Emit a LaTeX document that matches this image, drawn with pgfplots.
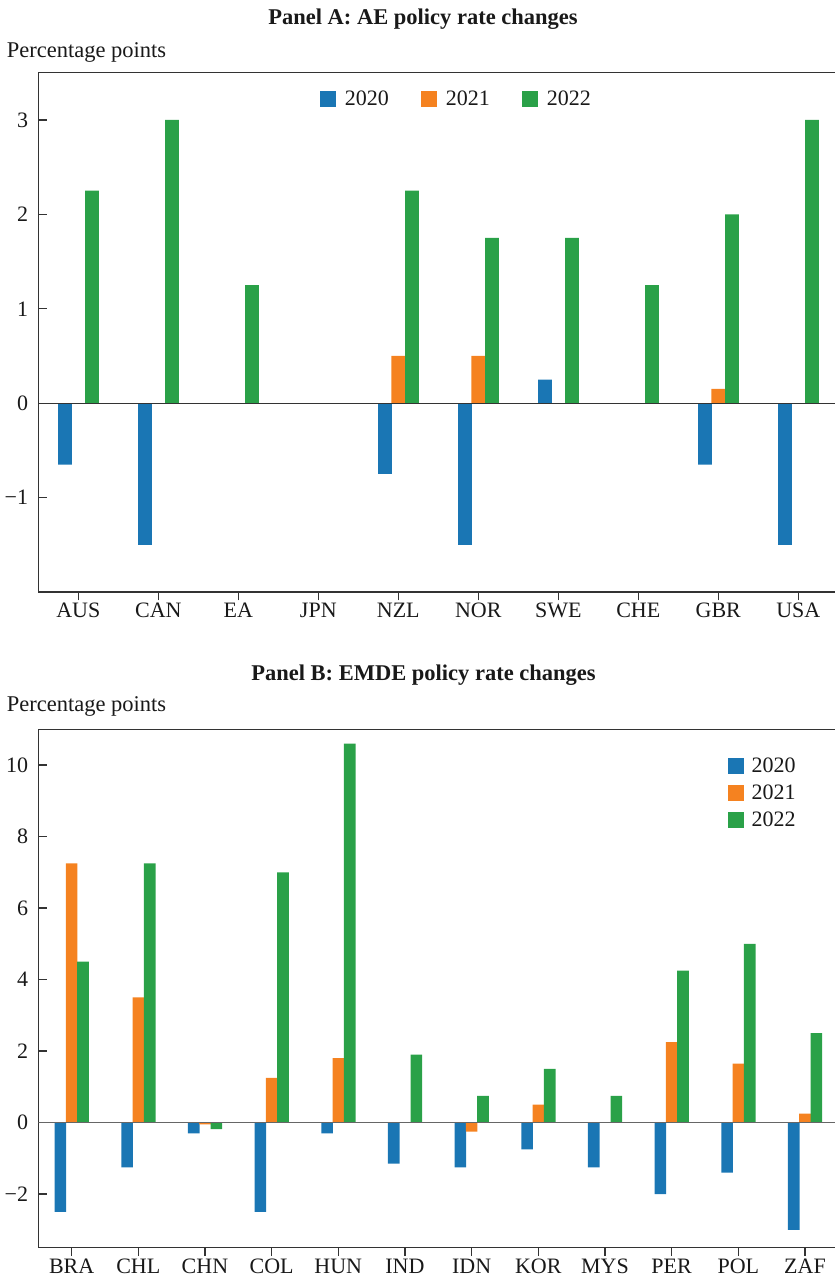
\documentclass[border=0pt]{standalone}
\usepackage{fontspec}
\setmainfont{Liberation Serif}
\usepackage{pgfplots}
\usepackage{pgfplotstable}
\pgfplotsset{compat=1.18}

\definecolor{c20}{HTML}{1A76B4}
\definecolor{c21}{HTML}{F58220}
\definecolor{c22}{HTML}{2AA148}
\definecolor{axc}{HTML}{333333}

% Panel A: AE policy rate changes (percentage points)
\pgfplotstableread{
x   y20    y21    y22
0   -0.65  0      2.25
1   -1.5   0      3.0
2   0      0      1.25
3   0      0      0
4   -0.75  0.5    2.25
5   -1.5   0.5    1.75
6   0.25   0      1.75
7   0      0      1.25
8   -0.65  0.15   2.0
9   -1.5   0      3.0
}\dataA

% Panel B: EMDE policy rate changes (percentage points)
\pgfplotstableread{
x   y20    y21    y22
0   -2.5   7.25   4.5
1   -1.25  3.5    7.25
2   -0.3   -0.05  -0.18
3   -2.5   1.25   7.0
4   -0.3   1.8    10.6
5   -1.15  0      1.9
6   -1.25  -0.25  0.75
7   -0.75  0.5    1.5
8   -1.25  0      0.75
9   -2.0   2.25   4.25
10  -1.4   1.65   5.0
11  -3.0   0.25   2.5
}\dataB

\pgfplotsset{
  panel/.style={
    scale only axis,
    width=800pt,
    axis line style={axc, line width=1.2pt},
    tick align=inside,
    xtick pos=left, ytick pos=left,
    major tick length=8.3pt,
    tick style={axc, line width=1.2pt},
    every tick label/.append style={font=\fontsize{22}{26}\selectfont, inner sep=0pt, text=black!90},
    xticklabel style={yshift=-2.5pt},
    yticklabel style={xshift=-10pt},
    legend cell align=left,
    legend style={draw=none, fill=none, inner sep=0pt, outer sep=0pt,
      font=\fontsize{22}{26}\selectfont, nodes={inner sep=0pt, text=black!90}},
  }
}

\begin{document}
\begin{tikzpicture}
\useasboundingbox (0,0) rectangle (835pt,1278pt);
\clip (0,0) rectangle (835pt,1278pt);

% ---------------- Panel A ----------------
\begin{axis}[panel,
  at={(38.3pt,686pt)}, anchor=south west,
  height=519.3pt,
  xmin=-0.5, xmax=9.5, ymin=-2, ymax=3.5,
  xtick={0,...,9},
  xticklabels={AUS,CAN,EA,JPN,NZL,NOR,SWE,CHE,GBR,USA},
  ytick={-1,0,1,2,3},
  yticklabels={−1,0,1,2,3},
  ybar, bar width=13.7pt,
  legend columns=3,
  legend image code/.code={\fill[#1] (0pt,-7.6pt) rectangle (15.7pt,8.4pt); \path (25pt,0pt);},
  legend style={at={(0.352,0.9653)}, anchor=north west,
    /tikz/every even column/.append style={column sep=32pt}},
]
\addplot[fill=c20, draw=none, bar shift=-13.4pt] table[x=x, y=y20] {\dataA};
\addplot[fill=c21, draw=none, bar shift=0pt] table[x=x, y=y21] {\dataA};
\addplot[fill=c22, draw=none, bar shift=13.6pt] table[x=x, y=y22] {\dataA};
\legend{2020,2021,2022}
\draw[axc, line width=1.3pt] (axis cs:-0.5,0) -- (axis cs:9.5,0);
\end{axis}

% ---------------- Panel B ----------------
\begin{axis}[panel,
  at={(38.3pt,30.3pt)}, anchor=south west,
  height=518.4pt,
  xmin=-0.5, xmax=11.5, ymin=-3.5, ymax=11,
  xtick={0,...,11},
  xticklabels={BRA,CHL,CHN,COL,HUN,IND,IDN,KOR,MYS,PER,POL,ZAF},
  ytick={-2,0,2,4,6,8,10},
  yticklabels={−2,0,2,4,6,8,10},
  ybar, bar width=11.6pt,
  legend columns=1,
  legend image code/.code={\fill[#1] (0pt,-7.6pt) rectangle (16pt,8.4pt); \path (23.7pt,0pt);},
  legend style={at={(0.862,0.9446)}, anchor=north west, row sep=10.5pt},
]
\addplot[fill=c20, draw=none, bar shift=-11.2pt] table[x=x, y=y20] {\dataB};
\addplot[fill=c21, draw=none, bar shift=0pt] table[x=x, y=y21] {\dataB};
\addplot[fill=c22, draw=none, bar shift=11.4pt] table[x=x, y=y22] {\dataB};
\legend{2020,2021,2022}
\draw[black!60, line width=1.6pt] (axis cs:-0.5,0) -- (axis cs:11.5,0);
\end{axis}

% ---------------- Titles and unit labels ----------------
\node[anchor=base, inner sep=0pt, font=\fontsize{22.5}{27}\selectfont\bfseries, text=black!90]
  at (423pt,1253pt) {Panel A: AE policy rate changes};
\node[anchor=base west, inner sep=0pt, font=\fontsize{22.5}{27}\selectfont, text=black!90]
  at (6.7pt,1220.7pt) {Percentage points};
\node[anchor=base, inner sep=0pt, font=\fontsize{22.5}{27}\selectfont\bfseries, text=black!90]
  at (423.5pt,597.3pt) {Panel B: EMDE policy rate changes};
\node[anchor=base west, inner sep=0pt, font=\fontsize{22.5}{27}\selectfont, text=black!90]
  at (6.7pt,566.3pt) {Percentage points};
\end{tikzpicture}
\end{document}
